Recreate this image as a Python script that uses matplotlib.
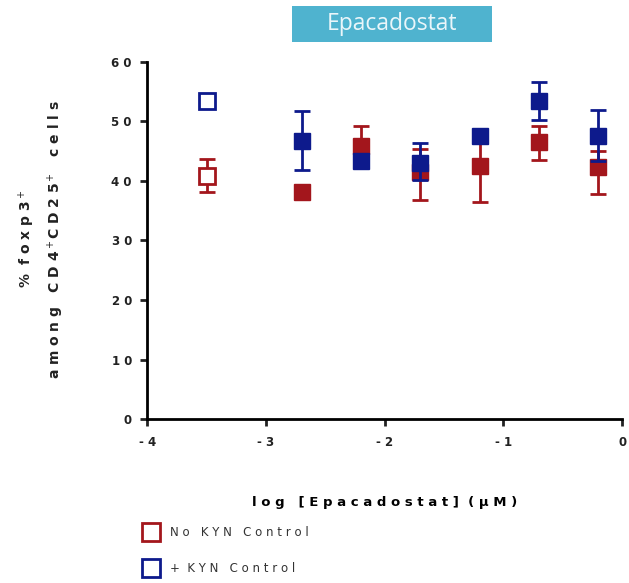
import matplotlib
matplotlib.use("Agg")
import matplotlib.pyplot as plt
from matplotlib.lines import Line2D
from matplotlib.patches import Rectangle

# data
ctrl_x = [-3.5]
nokyn_ctrl = [40.8]
nokyn_ctrl_lo = [38.2]
nokyn_ctrl_hi = [43.7]
kyn_ctrl = [53.4]

dose_x = [-2.7, -2.2, -1.7, -1.2, -0.7, -0.2]
nokyn = [38.2, 45.9, 41.5, 42.5, 46.5, 42.4]
nokyn_lo = [38.2, 45.9, 36.8, 36.5, 43.5, 37.8]
nokyn_hi = [38.2, 49.2, 45.4, 48.5, 49.2, 45.0]
kyn = [46.7, 43.4, 43.0, 47.6, 53.4, 47.6]
kyn_lo = [41.8, 43.4, 40.2, 47.6, 50.3, 43.3]
kyn_hi = [51.8, 43.4, 46.4, 47.6, 56.6, 51.9]

yticks = [0, 10, 20, 30, 40, 50, 60]
xticks = [-4, -3, -2, -1, 0]

RED = "#A3161C"
BLUE = "#0D1A8C"

def spaced(s, sep=" "):
    return sep.join(s)

fig = plt.figure(figsize=(6.29, 5.83), dpi=100)
ax = fig.add_axes([0.234, 0.281, 0.755, 0.613])

def err(vals, lo, hi):
    return [[v - l for v, l in zip(vals, lo)], [h - v for v, h in zip(vals, hi)]]

ms = 11.5
ax.errorbar(ctrl_x, nokyn_ctrl, yerr=err(nokyn_ctrl, nokyn_ctrl_lo, nokyn_ctrl_hi),
            fmt="s", color=RED, mfc="white", mec=RED, mew=2, ms=ms,
            capsize=6, capthick=2, elinewidth=2, zorder=3)
ax.plot(ctrl_x, kyn_ctrl, "s", color=BLUE, mfc="white", mec=BLUE, mew=2, ms=ms, zorder=3)

ax.errorbar(dose_x, nokyn, yerr=err(nokyn, nokyn_lo, nokyn_hi),
            fmt="s", color=RED, ms=ms, capsize=6, capthick=2, elinewidth=2, zorder=3)
ax.errorbar(dose_x, kyn, yerr=err(kyn, kyn_lo, kyn_hi),
            fmt="s", color=BLUE, ms=ms, capsize=6, capthick=2, elinewidth=2, zorder=4)

ax.set_xlim(-4, 0)
ax.set_ylim(0, 60)
ax.set_xticks(xticks)
ax.set_yticks(yticks)
ax.set_xticklabels([spaced(str(t)) for t in xticks], fontweight="bold", fontsize=8.5)
ax.set_yticklabels([spaced(str(t)) for t in yticks], fontweight="bold", fontsize=8.5)
for s in ["top", "right"]:
    ax.spines[s].set_visible(False)
for s in ["left", "bottom"]:
    ax.spines[s].set_linewidth(2)
ax.tick_params(width=2, length=5, direction="out", colors="#222222")
ax.tick_params(axis="x", pad=7)
ax.tick_params(axis="y", pad=6)

ax.set_xlabel("l o g   [ E p a c a d o s t a t ]  ( µ M )", fontweight="bold",
              fontsize=9.5, labelpad=34)
fig.text(0.042, 0.59, "%  f o x p 3$^+$", rotation=90, ha="center", va="center",
         fontweight="bold", fontsize=10, color="#222222")
fig.text(0.088, 0.59, "a m o n g   C D 4$^+$C D 2 5$^+$   c e l l s",
         rotation=90, ha="center", va="center", fontweight="bold", fontsize=10,
         color="#222222")

# title box
fig.patches.append(Rectangle((292 / 629, 1 - 42 / 583), 200 / 629, 36 / 583,
                             transform=fig.transFigure, facecolor="#4FB3CF",
                             edgecolor="none"))
fig.text(392 / 629, 1 - 24 / 583, "Epacadostat", ha="center", va="center",
         color="#EAF6FA", fontsize=16.5, family="Open Sans")

handles = [Line2D([], [], marker="s", ls="none", mfc="white", mec=RED, mew=2, ms=12.5),
           Line2D([], [], marker="s", ls="none", mfc="white", mec=BLUE, mew=2, ms=12.5)]
fig.legend(handles, [spaced("No KYN Control"), "+  " + spaced("KYN Control")],
           loc="upper left", bbox_to_anchor=(0.222, 0.106), frameon=False,
           fontsize=8.5, handletextpad=1.0, labelspacing=1.95, handlelength=1.2,
           labelcolor="#333333", borderaxespad=0)

fig.savefig("out.png", dpi=100)
